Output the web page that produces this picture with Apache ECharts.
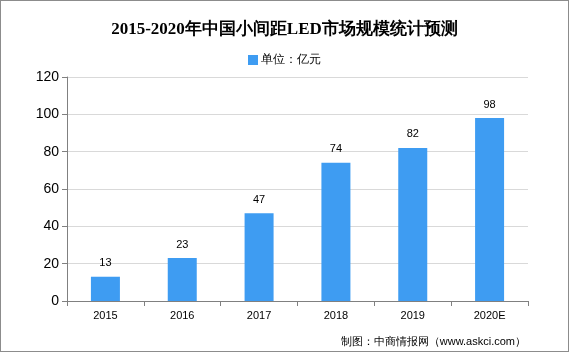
<!DOCTYPE html>
<html>
<head>
<meta charset="utf-8">
<script src="https://cdn.jsdelivr.net/npm/echarts@6/dist/echarts.min.js"></script>
<style>
  html, body { margin: 0; padding: 0; background: #fff; }
  #chart { width: 569px; height: 352px; box-sizing: border-box; border: 1px solid #8c8c8c; }
</style>
</head>
<body>
<div id="chart"></div>
<script>
// 年份与市场规模（亿元）
const years = ["2015", "2016", "2017", "2018", "2019", "2020E"];
const sizes = [13, 23, 47, 74, 82, 98];
const yTicks = [0, 20, 40, 60, 80, 100, 120];

const chart = echarts.init(document.getElementById("chart"));

const option = {
  animation: false,
  title: {
    text: "2015-2020年中国小间距LED市场规模统计预测",
    left: "center",
    top: 15,
    textStyle: {
      fontFamily: "serif",
      fontSize: 17,
      fontWeight: "bold",
      color: "#000",
    },
  },
  legend: {
    top: 48,
    left: "center",
    icon: "rect",
    itemWidth: 10,
    itemHeight: 10,
    itemGap: 4,
    data: ["单位：亿元"],
    textStyle: { fontSize: 12, color: "#000", padding: [0, 0, 0, -2] },
  },
  grid: {
    left: 66,
    right: 40,
    top: 76,
    bottom: 50,
  },
  xAxis: {
    type: "category",
    data: years,
    axisLine: { lineStyle: { color: "#808080" } },
    axisTick: { show: true, alignWithLabel: false, lineStyle: { color: "#808080" } },
    axisLabel: { color: "#000", fontSize: 11, margin: 9, fontFamily: "Liberation Sans" },
  },
  yAxis: {
    type: "value",
    min: yTicks[0],
    max: yTicks[yTicks.length - 1],
    interval: 20,
    axisLine: { show: true, lineStyle: { color: "#808080" } },
    axisTick: { show: true, lineStyle: { color: "#808080" } },
    axisLabel: { color: "#000", fontSize: 14, margin: 8, fontFamily: "Liberation Sans" },
    splitLine: { lineStyle: { color: "#d9d9d9" } },
  },
  series: [
    {
      name: "单位：亿元",
      type: "bar",
      data: sizes,
      barWidth: 29,
      itemStyle: { color: "#3e9cf2" },
      label: {
        show: true,
        position: "top",
        distance: 8,
        color: "#000",
        fontSize: 11,
        fontFamily: "Liberation Sans",
      },
    },
  ],
  graphic: [
    {
      type: "text",
      right: 42,
      bottom: 4,
      style: {
        text: "制图：中商情报网（www.askci.com）",
        fontSize: 11,
        fill: "#000",
      },
    },
  ],
};

chart.setOption(option);
</script>
</body>
</html>
